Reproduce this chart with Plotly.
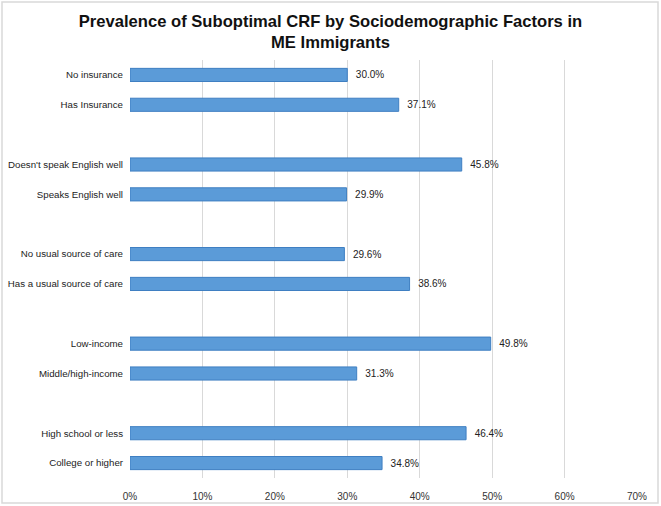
import plotly.graph_objects as go

categories = ["No insurance", "Has Insurance", " ",
              "Doesn't speak English well", "Speaks English well", "  ",
              "No usual source of care", "Has a usual source of care", "   ",
              "Low-income", "Middle/high-income", "    ",
              "High school or less", "College or higher"]
values = [30.0, 37.1, None,
          45.8, 29.9, None,
          29.6, 38.6, None,
          49.8, 31.3, None,
          46.4, 34.8]
tick_vals = [0, 10, 20, 30, 40, 50, 60, 70]
tick_text = ["0%", "10%", "20%", "30%", "40%", "50%", "60%", "70%"]

W, H = 661, 506
ML, MR, MT, MB = 130, 24, 60, 28
pw, ph = W - ML - MR, H - MT - MB

labels = [f"  {v:.1f}%" if v is not None else "" for v in values]

fig = go.Figure(go.Bar(
    y=categories, x=values, orientation="h",
    text=labels, textposition="outside", cliponaxis=False,
    textfont=dict(size=10, color="#222222", family="Liberation Sans"),
    marker=dict(color="#5b9bd8", line=dict(color="#3f7fc2", width=1)),
    width=0.44,
))

def px2x(p):
    return (p - ML) / pw

def py2y(p):
    return (H - MB - p) / ph

fig.update_layout(
    width=W, height=H,
    margin=dict(l=ML, r=MR, t=MT, b=MB, autoexpand=False),
    paper_bgcolor="white", plot_bgcolor="white",
    font=dict(family="Liberation Sans", size=10, color="#333333"),
    title=dict(text="<b>Prevalence of Suboptimal CRF by Sociodemographic Factors in<br>ME Immigrants</b>",
               x=0.5, xref="container", xanchor="center", yref="container", y=0.947, yanchor="top",
               font=dict(size=16.6, color="#111111", family="Liberation Sans")),
    showlegend=False,
    xaxis=dict(range=[0, 70], tickmode="array", tickvals=tick_vals, ticktext=tick_text,
               showgrid=True, gridcolor="#d9d9d9", gridwidth=1, automargin=False,
               zeroline=False, showline=False, ticks="", ticklabelstandoff=11,
               tickfont=dict(size=10, color="#333333")),
    yaxis=dict(type="category", categoryorder="array", categoryarray=categories,
               autorange="reversed", showgrid=False, showline=False, ticks="",
               automargin=False, ticklabelstandoff=6,
               tickfont=dict(size=9.7, color="#222222")),
    shapes=[dict(type="rect", xref="paper", yref="paper",
                 x0=px2x(2), x1=px2x(658), y0=py2y(503), y1=py2y(2),
                 line=dict(color="#d9d9d9", width=1.5), layer="below")],
)

fig.write_html("out.html", config={"displayModeBar": False},
               post_script="document.body.style.margin='0';")
